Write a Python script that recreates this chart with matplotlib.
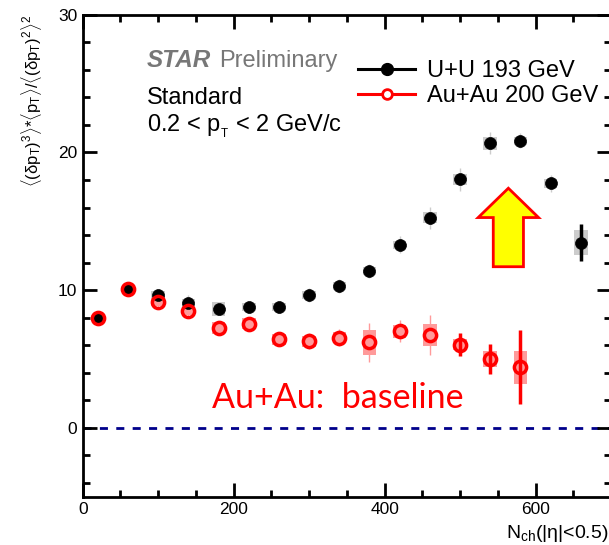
import numpy as np
import matplotlib
matplotlib.use("Agg")
import matplotlib.pyplot as plt
from matplotlib.ticker import MultipleLocator
from matplotlib.lines import Line2D
from matplotlib.patches import Rectangle, Polygon

plt.rcParams['font.family'] = ['Liberation Sans', 'DejaVu Sans']
plt.rcParams['mathtext.fontset'] = 'custom'
plt.rcParams['mathtext.rm'] = 'Liberation Sans'
plt.rcParams['mathtext.it'] = 'Liberation Sans'
plt.rcParams['mathtext.bf'] = 'Liberation Sans:bold'

# U+U 193 GeV
uu_nch = [20, 60, 100, 140, 180, 220, 260, 300, 340, 380, 420, 460, 500, 540, 580, 620, 660]
uu_val = [8.0, 10.1, 9.65, 9.05, 8.65, 8.75, 8.75, 9.65, 10.3, 11.4, 13.3, 15.25, 18.05, 20.65, 20.85, 17.75, 13.45]
uu_stat = [0.3, 0.3, 0.4, 0.6, 0.4, 0.4, 0.4, 0.5, 0.5, 0.5, 0.6, 0.8, 0.85, 0.8, 0.55, 0.6, 1.37]
uu_sys = [0.2, 0.2, 0.3, 0.3, 0.5, 0.3, 0.3, 0.3, 0.3, 0.3, 0.3, 0.4, 0.4, 0.5, 0.3, 0.3, 0.9]

# Au+Au 200 GeV
au_nch = [20, 60, 100, 140, 180, 220, 260, 300, 340, 380, 420, 460, 500, 540, 580]
au_val = [8.0, 10.05, 9.15, 8.5, 7.25, 7.55, 6.45, 6.3, 6.55, 6.2, 7.0, 6.75, 6.05, 5.0, 4.4]
au_stat = [0.3, 0.3, 0.4, 0.4, 0.5, 0.5, 0.4, 0.6, 0.6, 1.4, 0.8, 1.45, 0.85, 1.1, 2.7]
au_sys = [0.2, 0.2, 0.3, 0.3, 0.4, 0.4, 0.4, 0.4, 0.4, 0.9, 0.5, 0.8, 0.4, 0.6, 1.2]

# arrow: x centre, bottom, head base, tip, shaft half width, head half width
arrow = dict(xc=564, y0=11.7, y1=15.27, y2=17.4, shaft=20, head=40)

fig = plt.figure(figsize=(6.09, 5.45), dpi=100)
ax = fig.add_axes([82.7/609, 48.3/545, 528.3/609, 482/545])

box_w = 9


def draw(nch, val, stat, sys, color, boxcolor, thick_from):
    for i, (x, y, s, b) in enumerate(zip(nch, val, stat, sys)):
        ax.add_patch(Rectangle((x - box_w, y - b), 2*box_w, 2*b,
                               facecolor=boxcolor, edgecolor='none', zorder=1))
        if i >= thick_from:
            ax.vlines(x, y - s, y + s, color=color, lw=2.5, zorder=2)
        else:
            ax.vlines(x, y - s, y + s, color=boxcolor, lw=1, zorder=2)


draw(uu_nch, uu_val, uu_stat, uu_sys, 'black', '#cccccc', 16)
draw(au_nch, au_val, au_stat, au_sys, 'red', '#ff9a9a', 12)

ax.plot(uu_nch, uu_val, 'o', color='black', ms=8.6, mew=0.5, zorder=3)
ax.plot(au_nch, au_val, 'o', mfc='none', mec='red', ms=8.8, mew=2.5, zorder=4)

ax.axhline(0, color='#00008b', lw=2, dashes=(2.9, 3.0), zorder=0)

a = arrow
pts = [(a['xc'] - a['shaft'], a['y0']), (a['xc'] - a['shaft'], a['y1']),
       (a['xc'] - a['head'], a['y1']), (a['xc'], a['y2']),
       (a['xc'] + a['head'], a['y1']), (a['xc'] + a['shaft'], a['y1']),
       (a['xc'] + a['shaft'], a['y0'])]
ax.add_patch(Polygon(pts, closed=True, facecolor='yellow', edgecolor='red', lw=2, zorder=5))

ax.set_xlim(0, 700)
ax.set_ylim(-5, 30)
ax.xaxis.set_major_locator(MultipleLocator(200))
ax.xaxis.set_minor_locator(MultipleLocator(50))
ax.yaxis.set_major_locator(MultipleLocator(10))
ax.yaxis.set_minor_locator(MultipleLocator(2))
ax.tick_params(which='both', direction='in', top=True, right=True, width=2, labelsize=12.5, pad=4)
ax.tick_params(which='major', length=10)
ax.tick_params(which='minor', length=5)
for sp in ax.spines.values():
    sp.set_linewidth(2)

ax.set_xlabel(r'$\mathrm{N_{ch}}$(|η|<0.5)', fontsize=14, ha='right')
ax.xaxis.set_label_coords(0.996, -0.055)
ax.set_ylabel(r'$\langle(\delta \mathrm{p_{T}})^{3}\rangle$*$\langle\mathrm{p_{T}}\rangle/\langle(\delta \mathrm{p_{T}})^{2}\rangle^{2}$',
              fontsize=12, loc='top', labelpad=10)

ax.text(0.122, 0.892, 'STAR', transform=ax.transAxes, fontsize=17.5, color='#777777',
        fontweight='bold', fontstyle='italic', va='baseline')
ax.text(0.258, 0.892, 'Preliminary', transform=ax.transAxes, fontsize=17, color='#777777', va='baseline')
ax.text(0.122, 0.815, 'Standard', transform=ax.transAxes, fontsize=17, va='baseline')
ax.text(0.122, 0.757, r'0.2 < $\mathrm{p_{_T}}$ < 2 GeV/c', transform=ax.transAxes, fontsize=17, va='baseline')

ax.text(171, 1.45, 'Au+Au:  baseline', fontsize=24.5, color='red', family=['Lato', 'DejaVu Sans'],
        va='baseline')

handles = [Line2D([], [], color='black', lw=2.2, marker='o', ms=8.5),
           Line2D([], [], color='red', lw=2.2, marker='o', mfc='white', mec='red', mew=2, ms=7)]
ax.legend(handles, ['U+U 193 GeV', 'Au+Au 200 GeV'], loc='upper left', bbox_to_anchor=(0.522, 0.905),
          frameon=False, fontsize=17, handlelength=2.4, handletextpad=0.5, labelspacing=0.1,
          borderpad=0, borderaxespad=0)

fig.savefig('out.png', dpi=100)
